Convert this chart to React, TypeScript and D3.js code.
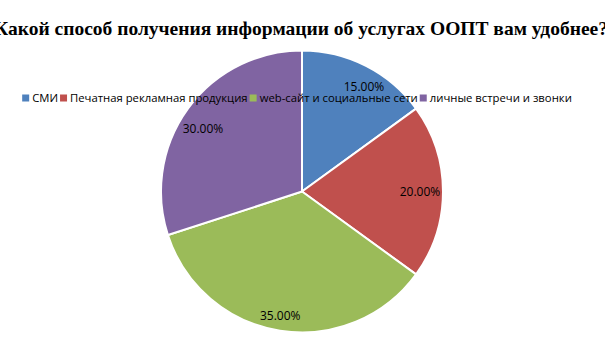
import React, { useEffect, useRef } from "react";
import * as d3 from "d3";

const categories = ["СМИ", "Печатная рекламная продукция", "web-сайт и социальные сети", "личные встречи и звонки"];
const values = [15, 20, 35, 30];
const labels = ["15.00%", "20.00%", "35.00%", "30.00%"];
const colors = ["#4F81BD", "#C0504D", "#9BBB59", "#8064A2"];
const title = "Какой способ получения информации об услугах ООПТ вам удобнее?";

const W = 605;
const H = 340;
// small best-fit nudges of the data labels (as in the source chart)
const labelNudge: [number, number][] = [[7.5, 2.5], [-2, 0.5], [-3, 6], [-2, 8]];

export default function App() {
  const ref = useRef<SVGSVGElement>(null);
  useEffect(() => {
    const svg = d3.select(ref.current);
    svg.selectAll("*").remove();
    const cx = 302, cy = 191.5, r = 141;
    const pie = d3.pie<number>().sort(null).value((d) => d);
    const arcs = pie(values);
    const arc = d3.arc<d3.PieArcDatum<number>>().innerRadius(0).outerRadius(r);
    const labelArc = d3.arc<d3.PieArcDatum<number>>().innerRadius(120).outerRadius(120);
    const g = svg.append("g").attr("transform", `translate(${cx},${cy})`);
    g.selectAll("path").data(arcs).join("path")
      .attr("d", arc as any)
      .attr("fill", (_, i) => colors[i])
      .attr("stroke", "#fff")
      .attr("stroke-width", 2)
      .attr("stroke-linejoin", "round");
    g.selectAll("text").data(arcs).join("text")
      .attr("transform", (d, i) => {
        const [x, y] = labelArc.centroid(d);
        return `translate(${x + labelNudge[i][0]},${y + labelNudge[i][1]})`;
      })
      .attr("text-anchor", "middle")
      .attr("dy", "0.35em")
      .attr("font-family", "Open Sans, sans-serif")
      .attr("font-size", 12)
      .attr("fill", "#000")
      .text((_, i) => labels[i]);

    // title
    svg.append("text")
      .attr("x", 301).attr("y", 35)
      .attr("text-anchor", "middle")
      .attr("font-family", "Liberation Serif, serif")
      .attr("font-weight", "bold")
      .attr("font-size", 19.5)
      .attr("fill", "#000")
      .text(title);

    // legend
    const lg = svg.append("g");
    const fs = 11.3;
    const items = categories.map((c, i) => {
      const it = lg.append("g");
      it.append("rect").attr("width", 7).attr("height", 7).attr("y", -7.5).attr("fill", colors[i]);
      const t = it.append("text").attr("x", 10).attr("y", 0)
        .attr("font-family", "Open Sans, sans-serif").attr("font-size", fs).attr("fill", "#000").text(c);
      const w = (t.node() as SVGTextElement).getComputedTextLength();
      return { it, w: 10 + w + 2 };
    });
    const total = items.reduce((s, d) => s + d.w, 0);
    let x = 298 - total / 2;
    items.forEach((d) => {
      d.it.attr("transform", `translate(${x},102)`);
      x += d.w;
    });
  }, []);
  return <svg ref={ref} width={W} height={H} style={{ display: "block", position: "absolute", left: 0, top: 0 }} />;
}
